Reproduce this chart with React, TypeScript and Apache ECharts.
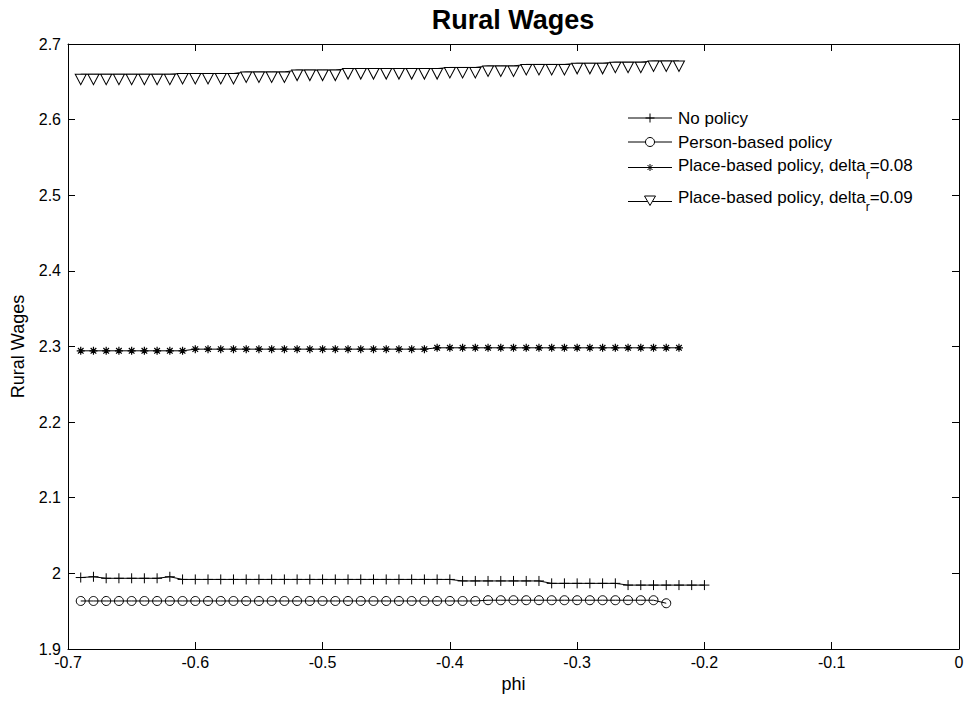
import React, { useEffect, useRef } from "react";
import * as echarts from "echarts";

// phi grid (x values)
const PHI = [
  -0.69, -0.68, -0.67, -0.66, -0.65, -0.64, -0.63, -0.62, -0.61, -0.6,
  -0.59, -0.58, -0.57, -0.56, -0.55, -0.54, -0.53, -0.52, -0.51, -0.5,
  -0.49, -0.48, -0.47, -0.46, -0.45, -0.44, -0.43, -0.42, -0.41, -0.4,
  -0.39, -0.38, -0.37, -0.36, -0.35, -0.34, -0.33, -0.32, -0.31, -0.3,
  -0.29, -0.28, -0.27, -0.26, -0.25, -0.24, -0.23, -0.22, -0.21, -0.2,
];

const NO_POLICY = [
  1.9945, 1.9955, 1.9935, 1.9935, 1.9935, 1.9935, 1.9935, 1.9955, 1.992, 1.992,
  1.992, 1.992, 1.992, 1.992, 1.992, 1.992, 1.992, 1.992, 1.992, 1.992,
  1.992, 1.992, 1.992, 1.992, 1.992, 1.992, 1.992, 1.992, 1.992, 1.992,
  1.99, 1.99, 1.99, 1.99, 1.99, 1.99, 1.99, 1.9868, 1.9868, 1.9868,
  1.9868, 1.9868, 1.9868, 1.9845, 1.9845, 1.9845, 1.9845, 1.9845, 1.9845, 1.9845,
];

const PERSON_BASED = [
  1.9635, 1.9635, 1.9635, 1.9635, 1.9635, 1.9635, 1.9635, 1.9635, 1.9635, 1.9635,
  1.9635, 1.9635, 1.9635, 1.9635, 1.9635, 1.9635, 1.9635, 1.9635, 1.9635, 1.9635,
  1.9635, 1.9635, 1.9635, 1.9635, 1.9635, 1.9635, 1.9635, 1.9635, 1.9635, 1.9635,
  1.9635, 1.9635, 1.9645, 1.9645, 1.9645, 1.9645, 1.9645, 1.9645, 1.9645, 1.9645,
  1.9645, 1.9645, 1.9645, 1.9645, 1.9645, 1.9645, 1.9605,
];

const PLACE_008 = [
  2.2943, 2.2943, 2.2943, 2.2943, 2.2943, 2.2943, 2.2943, 2.2943, 2.2943, 2.2965,
  2.2965, 2.2965, 2.2965, 2.2965, 2.2965, 2.2965, 2.2965, 2.2965, 2.2965, 2.2965,
  2.2965, 2.2965, 2.2965, 2.2965, 2.2965, 2.2965, 2.2965, 2.2965, 2.2983, 2.2983,
  2.2983, 2.2983, 2.2983, 2.2983, 2.2983, 2.2983, 2.2983, 2.2983, 2.2983, 2.2983,
  2.2983, 2.2983, 2.2983, 2.2983, 2.2983, 2.2983, 2.2983, 2.2983,
];

const PLACE_009 = [
  2.66, 2.66, 2.66, 2.66, 2.66, 2.66, 2.66, 2.66, 2.661, 2.661,
  2.661, 2.661, 2.661, 2.663, 2.663, 2.663, 2.663, 2.6655, 2.6655, 2.6655,
  2.6655, 2.6675, 2.6675, 2.6675, 2.6675, 2.6675, 2.6675, 2.6675, 2.6675, 2.669,
  2.669, 2.669, 2.671, 2.671, 2.671, 2.673, 2.673, 2.673, 2.673, 2.6745,
  2.6745, 2.6745, 2.676, 2.676, 2.676, 2.6775, 2.6775, 2.6775,
];

const TITLE = "Rural Wages";
const Y_NAME = "Rural Wages";
const X_NAME = "phi";
const LEGEND_LABELS = [
  { base: "No policy", sub: "", tail: "" },
  { base: "Person-based policy", sub: "", tail: "" },
  { base: "Place-based policy, delta", sub: "r", tail: "=0.08" },
  { base: "Place-based policy, delta", sub: "r", tail: "=0.09" },
];

const FONT = '"Liberation Sans", Arial, Helvetica, sans-serif';
const LEG_FS = 17;
const SUB_FS = 12;

function measure(text: string, size: number): number {
  const c = document.createElement("canvas").getContext("2d");
  if (!c) return text.length * size * 0.5;
  c.font = `${size}px ${FONT}`;
  return c.measureText(text).width;
}

function pairs(vals: number[]) {
  return vals.map((v, i) => [PHI[i], v]);
}

export default function App() {
  const ref = useRef<HTMLDivElement>(null);

  useEffect(() => {
    if (!ref.current) return;
    const chart = echarts.init(ref.current, null, { renderer: "svg" });

    const axisCommon = {
      type: "value" as const,
      axisLine: { show: true, onZero: false, lineStyle: { color: "#000", width: 1 } },
      axisTick: { show: true, inside: true, length: 7, lineStyle: { color: "#000", width: 1 } },
      splitLine: { show: false },
    };
    const fmt = (v: number) => String(parseFloat(v.toFixed(1)));

    // legend graphics
    const rows = [
      { y: 118, ly: 118, sym: "plus" },
      { y: 142, ly: 142, sym: "circle" },
      { y: 165, ly: 167.5, sym: "star" },
      { y: 197, ly: 201.5, sym: "tri" },
    ];
    const graphic: any[] = [];
    const lx0 = 628, lx1 = 672, mx = 650, tx = 678;
    rows.forEach((r, i) => {
      graphic.push({
        type: "line",
        shape: { x1: lx0, y1: r.ly, x2: lx1, y2: r.ly },
        style: { stroke: "#000", lineWidth: 1 },
      });
      const y = r.ly;
      if (r.sym === "plus") {
        graphic.push({ type: "line", shape: { x1: mx - 4.5, y1: y, x2: mx + 4.5, y2: y }, style: { stroke: "#000", lineWidth: 1 } });
        graphic.push({ type: "line", shape: { x1: mx, y1: y - 4.5, x2: mx, y2: y + 4.5 }, style: { stroke: "#000", lineWidth: 1 } });
      } else if (r.sym === "circle") {
        graphic.push({ type: "circle", shape: { cx: mx, cy: y, r: 4.5 }, style: { fill: "#fff", stroke: "#000", lineWidth: 1 } });
      } else if (r.sym === "star") {
        const s = 3.5;
        graphic.push({ type: "line", shape: { x1: mx - s, y1: y, x2: mx + s, y2: y }, style: { stroke: "#000", lineWidth: 1 } });
        graphic.push({ type: "line", shape: { x1: mx, y1: y - s, x2: mx, y2: y + s }, style: { stroke: "#000", lineWidth: 1 } });
        graphic.push({ type: "line", shape: { x1: mx - 2.5, y1: y - 2.5, x2: mx + 2.5, y2: y + 2.5 }, style: { stroke: "#000", lineWidth: 1 } });
        graphic.push({ type: "line", shape: { x1: mx + 2.5, y1: y - 2.5, x2: mx - 2.5, y2: y + 2.5 }, style: { stroke: "#000", lineWidth: 1 } });
      } else {
        graphic.push({
          type: "polygon",
          shape: { points: [[mx - 5.5, y - 5.5], [mx + 5.5, y - 5.5], [mx, y + 4]] },
          style: { fill: "#fff", stroke: "#000", lineWidth: 1 },
        });
      }
      const lab = LEGEND_LABELS[i];
      graphic.push({
        type: "text",
        x: tx,
        y: r.y,
        style: { text: lab.base, fontSize: LEG_FS, fontFamily: FONT, fill: "#000", verticalAlign: "middle", align: "left" },
      });
      if (lab.sub) {
        const wb = measure(lab.base, LEG_FS);
        const ws = measure(lab.sub, SUB_FS);
        graphic.push({
          type: "text",
          x: tx + wb,
          y: r.y + 10,
          style: { text: lab.sub, fontSize: SUB_FS, fontFamily: FONT, fill: "#000", verticalAlign: "middle", align: "left" },
        });
        graphic.push({
          type: "text",
          x: tx + wb + ws,
          y: r.y,
          style: { text: lab.tail, fontSize: LEG_FS, fontFamily: FONT, fill: "#000", verticalAlign: "middle", align: "left" },
        });
      }
    });

    graphic.push({
      type: "text",
      x: 513,
      y: 20,
      style: {
        text: TITLE,
        fontSize: 27,
        fontWeight: "bold",
        fontFamily: FONT,
        fill: "#000",
        align: "center",
        verticalAlign: "middle",
      },
    });

    const lineStyle = { color: "#000", width: 1 };

    const option: any = {
      animation: false,
      backgroundColor: "#fff",
      textStyle: { fontFamily: FONT },
      grid: { left: 68, right: 10, top: 44, bottom: 58, containLabel: false },
      xAxis: [
        {
          ...axisCommon,
          position: "bottom",
          min: -0.7,
          max: 0,
          interval: 0.1,
          axisLabel: { color: "#000", fontSize: 16, fontFamily: FONT, margin: 5, formatter: fmt },
          name: X_NAME,
          nameLocation: "middle",
          nameGap: 26,
          nameTextStyle: { color: "#000", fontSize: 18, fontFamily: FONT },
        },
        {
          ...axisCommon,
          position: "top",
          min: -0.7,
          max: 0,
          interval: 0.1,
          axisLabel: { show: false },
        },
      ],
      yAxis: [
        {
          ...axisCommon,
          position: "left",
          min: 1.9,
          max: 2.7,
          interval: 0.1,
          axisLabel: { color: "#000", fontSize: 16, fontFamily: FONT, margin: 7, formatter: fmt },
          name: Y_NAME,
          nameLocation: "middle",
          nameGap: 41,
          nameRotate: 90,
          nameTextStyle: { color: "#000", fontSize: 18, fontFamily: FONT },
        },
        {
          ...axisCommon,
          position: "right",
          min: 1.9,
          max: 2.7,
          interval: 0.1,
          axisLabel: { show: false },
        },
      ],
      series: [
        {
          name: "No policy",
          type: "line",
          data: pairs(NO_POLICY),
          showSymbol: true,
          symbol: "path://M5 0L5 10M0 5L10 5",
          symbolSize: 10,
          lineStyle,
          itemStyle: { color: "rgba(0,0,0,0)", borderColor: "#000", borderWidth: 1 },
        },
        {
          name: "Person-based policy",
          type: "line",
          data: pairs(PERSON_BASED),
          showSymbol: true,
          symbol: "circle",
          symbolSize: 9,
          lineStyle,
          itemStyle: { color: "rgba(0,0,0,0)", borderColor: "#000", borderWidth: 1 },
        },
        {
          name: "Place-based policy, delta_r=0.08",
          type: "line",
          data: pairs(PLACE_008),
          showSymbol: true,
          symbol: "path://M5 0L5 10M0 5L10 5M1.5 1.5L8.5 8.5M8.5 1.5L1.5 8.5",
          symbolSize: 8,
          lineStyle,
          itemStyle: { color: "rgba(0,0,0,0)", borderColor: "#000", borderWidth: 1.2 },
        },
        {
          name: "Place-based policy, delta_r=0.09",
          type: "line",
          data: pairs(PLACE_009),
          showSymbol: true,
          symbol: "path://M0 0L10 0L5 9.5Z",
          symbolSize: [11, 10.5],
          symbolOffset: [0, 5.25],
          lineStyle,
          itemStyle: { color: "#fff", borderColor: "#000", borderWidth: 1 },
        },
      ],
      graphic,
    };

    chart.setOption(option);
    return () => chart.dispose();
  }, []);

  return (
    <div
      ref={ref}
      style={{ position: "absolute", left: 0, top: 0, width: 969, height: 707, background: "#fff" }}
    />
  );
}
